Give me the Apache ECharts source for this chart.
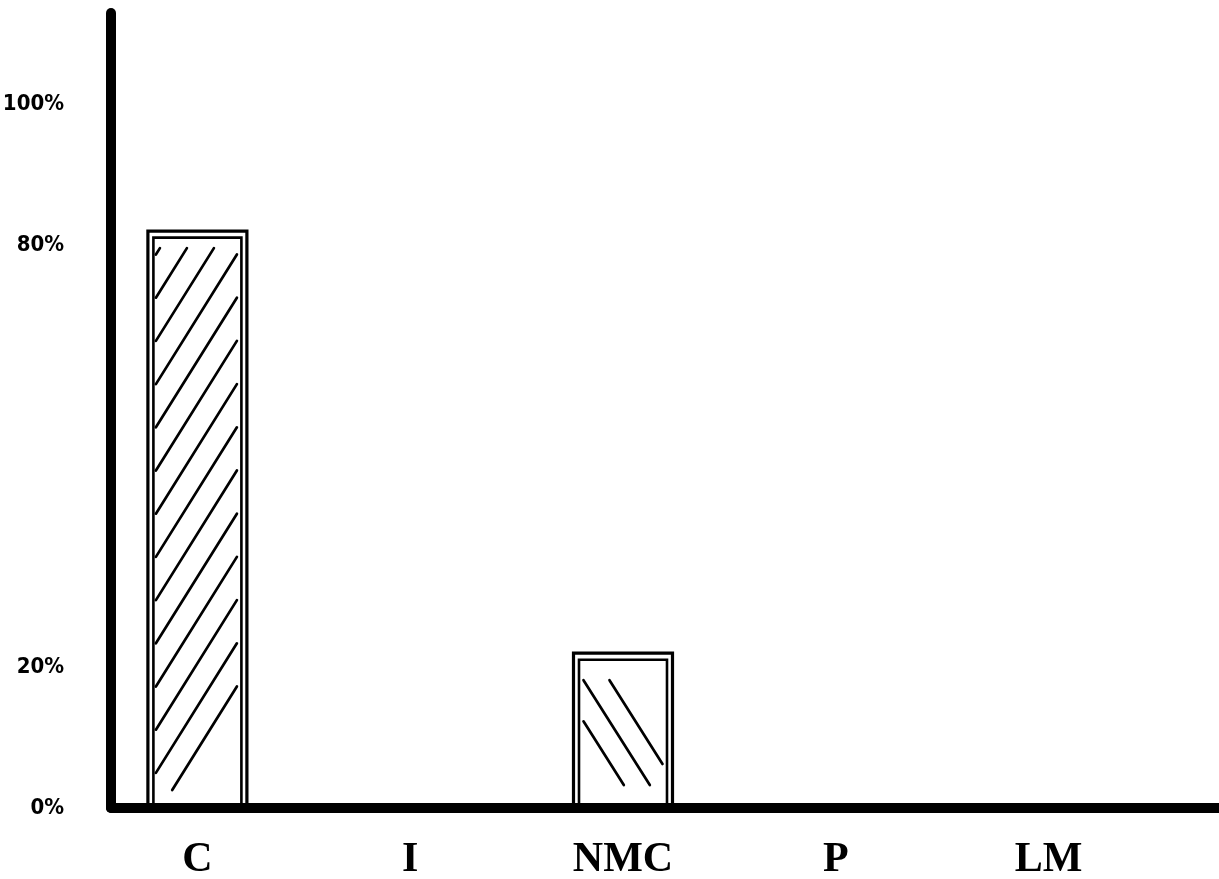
<!DOCTYPE html>
<html>
<head>
<meta charset="utf-8">
<script src="https://cdn.jsdelivr.net/npm/echarts@6/dist/echarts.min.js"></script>
<style>
  html, body { margin: 0; padding: 0; background: #ffffff; }
  #chart { width: 1219px; height: 879px; }
</style>
</head>
<body>
<div id="chart"></div>
<script>
// ---- data ----
const categories = ['C', 'I', 'NMC', 'P', 'LM'];
const shares = [82, 0, 22, 0, 0];          // percent
const yTickLabels = [0, 20, 80, 100];      // labelled ticks (%)

// ---- styles (hatching per category) ----
const hatchStyles = {
  'C':   { dir: '/',  phase: 31, spacing: 27, slope: 1.6, inset: { l: 8, r: 10, t: 17, b: 18 }, minLen: 0, bottomMaxX: 25 },
  'NMC': { dir: '\\', phase: 0,  spacing: 26, slope: 1.58, inset: { l: 10, r: 10, t: 27, b: 23 }, minLen: 55, bottomMaxX: 999 }
};

const BAR_W = 99;

function hatchLines(left, top, right, bottom, hs) {
  const H = bottom - top, k = hs.slope, out = [];
  const tMax = H / k;
  for (let n = -100; n <= 100; n++) {
    const x0 = left + hs.phase + n * hs.spacing;
    let t0, t1, sx;
    if (hs.dir === '/') { sx = -1; t0 = Math.max(0, x0 - right); t1 = Math.min(tMax, x0 - left); }
    else { sx = 1; t0 = Math.max(0, left - x0); t1 = Math.min(tMax, right - x0); }
    if (t1 <= t0) continue;
    const len = (t1 - t0) * Math.sqrt(1 + k * k);
    if (len < Math.max(hs.minLen, 4)) continue;
    const xe = x0 + sx * t1, ye = top + k * t1;
    if (ye >= bottom - 0.5 && xe - left > hs.bottomMaxX) continue;
    out.push({
      type: 'line',
      shape: { x1: x0 + sx * t0, y1: top + k * t0, x2: xe, y2: ye },
      style: { stroke: '#000', lineWidth: 2.7, lineCap: 'round' }
    });
  }
  return out;
}

function renderBar(params, api) {
  const idx = api.value(0), val = api.value(1);
  if (!val) return null;
  const topPt = api.coord([idx, val]);
  const basePt = api.coord([idx, 0]);
  const cx = topPt[0], top = topPt[1], base = basePt[1];
  const x = cx - BAR_W / 2;
  const children = [
    { type: 'rect', shape: { x: x, y: top, width: BAR_W, height: base - top },
      style: { fill: '#fff', stroke: '#000', lineWidth: 3.2 } },
    { type: 'rect', shape: { x: x + 5.5, y: top + 6.5, width: BAR_W - 11, height: base - top - 6.5 },
      style: { fill: 'none', stroke: '#000', lineWidth: 2.6 } }
  ];
  const hs = hatchStyles[categories[idx]];
  if (hs) {
    children.push(...hatchLines(x + hs.inset.l, top + hs.inset.t, x + BAR_W - hs.inset.r, base - hs.inset.b, hs));
  }
  return { type: 'group', children: children };
}

const chart = echarts.init(document.getElementById('chart'), null, { renderer: 'canvas' });
chart.setOption({
  backgroundColor: '#ffffff',
  animation: false,
  grid: [
    { left: 91, right: 64, top: 13, bottom: 71, containLabel: false, outerBoundsMode: 'none' },
    { left: 111, right: 0, top: 13, bottom: 71, containLabel: false, outerBoundsMode: 'none' }
  ],
  xAxis: [
    {
      gridIndex: 0, type: 'category', data: categories, boundaryGap: true,
      axisLine: { show: false }, axisTick: { show: false },
      axisLabel: { margin: 31, color: '#000', fontFamily: 'Liberation Serif', fontWeight: 'bold', fontSize: 42 }
    },
    {
      gridIndex: 1, type: 'value', min: 0, max: 1, z: 10,
      axisLine: { show: true, lineStyle: { color: '#000', width: 10 } },
      axisTick: { show: false }, axisLabel: { show: false }, splitLine: { show: false }
    }
  ],
  yAxis: [
    {
      gridIndex: 0, type: 'value', min: 0, max: 113, interval: 20,
      axisLine: { show: false }, axisTick: { show: false }, splitLine: { show: false },
      axisLabel: {
        margin: 27, color: '#000',
        fontFamily: "'Liberation Sans Narrow', 'DejaVu Sans Condensed', sans-serif",
        fontWeight: 'bold', fontSize: 22,
        showMaxLabel: false,
        formatter: function (v) { return yTickLabels.indexOf(v) >= 0 ? v + '%' : ''; }
      }
    },
    {
      gridIndex: 1, type: 'value', min: 0, max: 113, z: 10,
      axisLine: { show: true, lineStyle: { color: '#000', width: 10 } },
      axisTick: { show: false }, axisLabel: { show: false }, splitLine: { show: false }
    }
  ],
  series: [
    {
      type: 'custom', xAxisIndex: 0, yAxisIndex: 0,
      renderItem: renderBar,
      encode: { x: 0, y: 1 },
      data: categories.map(function (c, i) { return [i, shares[i]]; })
    }
  ]
});
</script>
</body>
</html>
